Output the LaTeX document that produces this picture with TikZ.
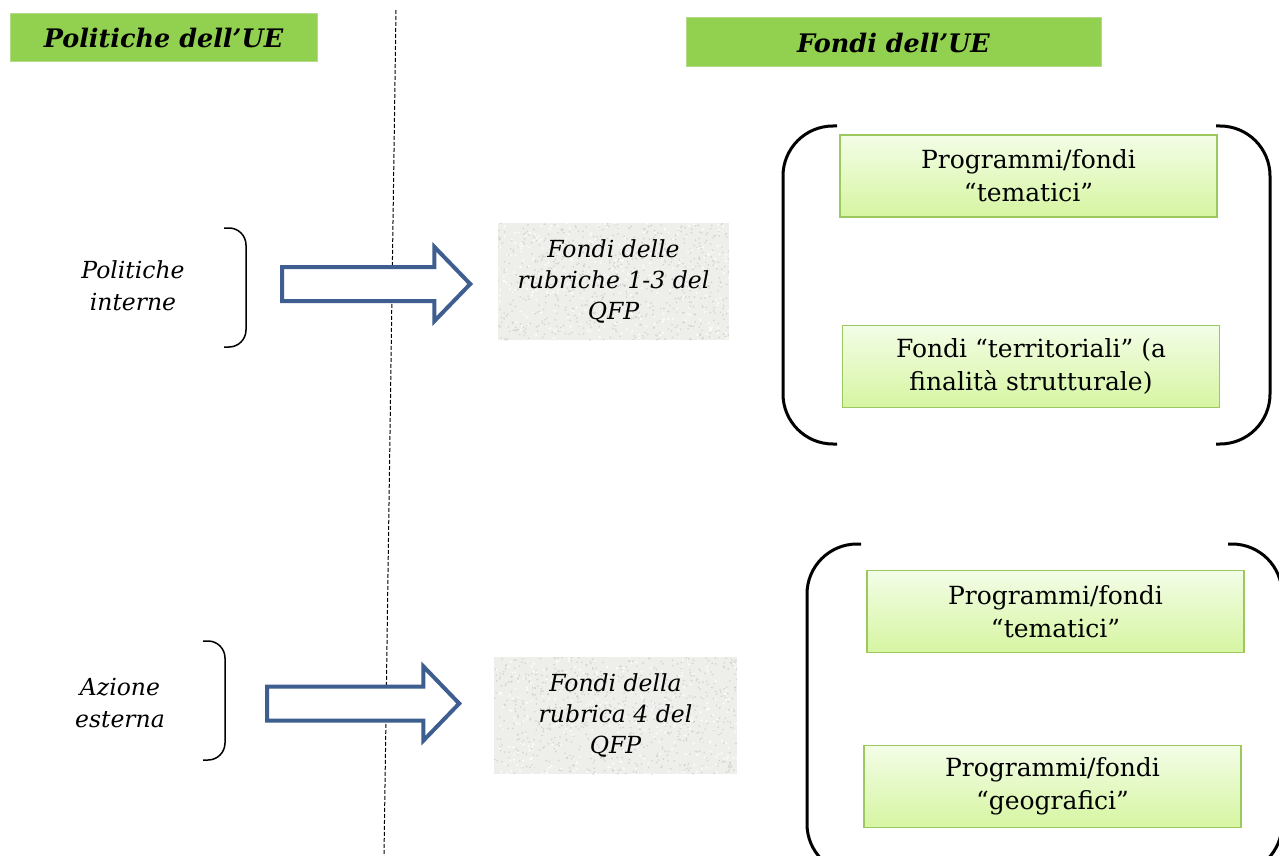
\documentclass[tikz,border=0pt]{standalone}
\usepackage{fontspec}
\setmainfont{DejaVu Serif}
\usetikzlibrary{shapes.arrows}
\definecolor{hdrgreen}{HTML}{92D050}
\definecolor{hdrborder}{HTML}{B5D98A}
\definecolor{gbtop}{HTML}{F3FDE7}
\definecolor{gbbot}{HTML}{D6F5A1}
\definecolor{gbdraw}{HTML}{9CC95F}
\definecolor{arrowblue}{HTML}{3D5E8E}
\definecolor{stone}{HTML}{EEEEEB}
\definecolor{speck}{HTML}{BDBDB8}
\tikzset{
  hdr/.style={fill=hdrgreen, draw=hdrborder, line width=1pt, inner sep=0pt,
    font=\fontsize{25.5}{30}\selectfont\bfseries\itshape},
  greenbox/.style={draw=gbdraw, line width=1.5pt, top color=gbtop, bottom color=gbbot,
    minimum width=377, minimum height=82, inner sep=0pt, align=center,
    font=\fontsize{25}{33}\selectfont},
  stonebox/.style 2 args={fill=stone, inner sep=0pt, align=center,
    minimum width=#1, minimum height=#2,
    font=\fontsize{23.5}{31}\selectfont\itshape,
    path picture={
      \foreach \i in {1,...,700}{
        \fill[speck, opacity=0.55] ([shift={({(rnd-0.5)*#1},{(rnd-0.5)*#2})}]path picture bounding box.center) circle (0.9);
      }
      \foreach \i in {1,...,300}{
        \fill[white, opacity=0.8] ([shift={({(rnd-0.5)*#1},{(rnd-0.5)*#2})}]path picture bounding box.center) circle (1.2);
      }
    }},
  bluearrow/.style={single arrow, draw=arrowblue, fill=white, line width=4pt,
    inner xsep=0pt, inner ysep=15pt, single arrow head indent=0pt,
    single arrow head extend=20pt, single arrow tip angle=92},
  sidelabel/.style={align=center, font=\fontsize{23.5}{32}\selectfont\itshape},
  bigbracket/.style={line width=3pt, rounded corners=50},
  smallbracket/.style={line width=1.5pt, rounded corners=17},
}
\begin{document}
\begin{tikzpicture}[x=1pt,y=-1pt]
\pgfmathsetseed{17}
\useasboundingbox (0,0) rectangle (1279,856);
\fill[white] (0,0) rectangle (1279,856);

% dashed divider
\coordinate (dtop) at (396,10);
\coordinate (dbot) at (384,856);
\draw[line width=1pt, dash pattern=on 4pt off 2pt] (dtop) -- (dbot);

% headers
\node[hdr, minimum width=307, minimum height=48] (h1) at (163.5,38) {Politiche dell’UE};
\node[hdr, minimum width=415, minimum height=49] (h2) at (893.5,42.5) {Fondi dell’UE};

% left labels
\node[sidelabel] (l1) at (133,286) {Politiche\\interne};
\node[sidelabel] (l2) at (120,703) {Azione\\esterna};

% small brackets
\draw[smallbracket] (224,228) -- (246,228) -- (246,347) -- (224,347);
\draw[smallbracket] (203,641) -- (225,641) -- (225,760) -- (203,760);

% arrows
\node[bluearrow, minimum height=188] (a1) at (368,284) {};
\node[bluearrow, minimum height=192] (a2) at (355,703.5) {};

% stone boxes
\node[stonebox={231}{117}] (s1) at (613.5,281.5) {Fondi delle\\rubriche 1-3 del\\QFP};
\node[stonebox={243}{117}] (s2) at (615.5,715.5) {Fondi della\\rubrica 4 del\\QFP};

% big brackets
\draw[bigbracket] (837,126) -- (783,126) -- (783,444) -- (837,444);
\draw[bigbracket] (1216,126) -- (1270,126) -- (1270,444) -- (1216,444);
\draw[bigbracket] (861,544) -- (807,544) -- (807,874) -- (861,874);
\draw[bigbracket] (1228,544) -- (1282,544) -- (1282,874) -- (1228,874);

% green boxes
\node[greenbox] (g1) at (1028.5,176) {Programmi/fondi\\“tematici”};
\node[greenbox] (g2) at (1031,366.5) {Fondi “territoriali” (a\\finalità strutturale)};
\node[greenbox] (g3) at (1055.5,611.5) {Programmi/fondi\\“tematici”};
\node[greenbox] (g4) at (1052.5,786.5) {Programmi/fondi\\“geografici”};
\end{tikzpicture}
\end{document}
